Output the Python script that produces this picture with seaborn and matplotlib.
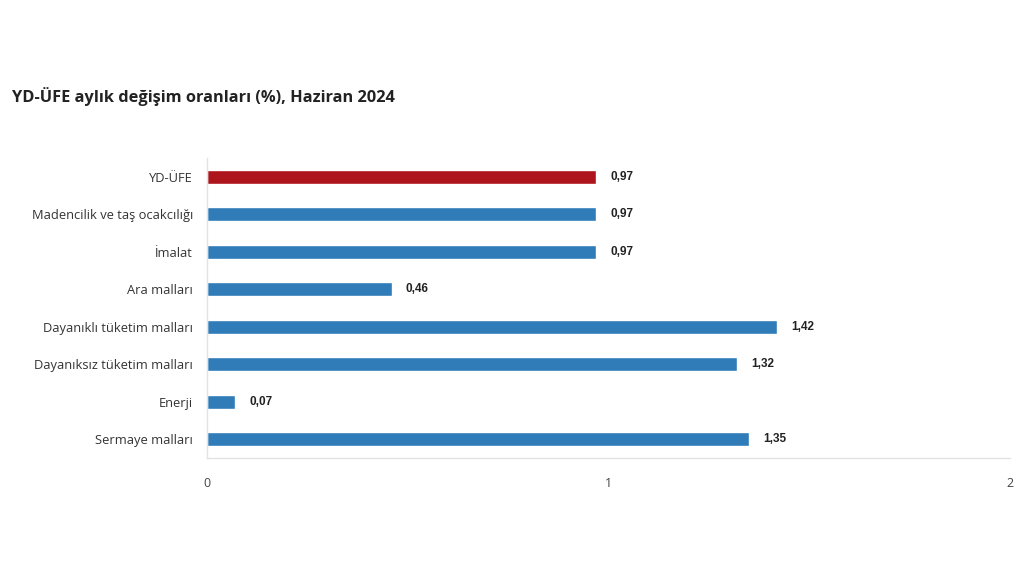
import pandas as pd
import seaborn as sns
import matplotlib.pyplot as plt

categories = [
    "YD-ÜFE",
    "Madencilik ve taş ocakcılığı",
    "İmalat",
    "Ara malları",
    "Dayanıklı tüketim malları",
    "Dayanıksız tüketim malları",
    "Enerji",
    "Sermaye malları",
]
values = [0.97, 0.97, 0.97, 0.46, 1.42, 1.32, 0.07, 1.35]
groups = ["total", "sub", "sub", "sub", "sub", "sub", "sub", "sub"]
x_ticks = [0, 1, 2]

df = pd.DataFrame({"category": categories, "value": values, "group": groups})

sns.set_theme(style="white")
plt.rcParams["font.family"] = ["Open Sans", "DejaVu Sans"]

fig = plt.figure(figsize=(10.24, 5.76), dpi=100)
ax = fig.add_axes([0.2021, 0.2049, 0.7842, 0.5208])

sns.barplot(data=df, x="value", y="category", hue="group",
            palette={"total": "#ad141c", "sub": "#2f7cb9"},
            saturation=1, width=0.37, dodge=False, legend=False, ax=ax)

# value labels
for i, v in enumerate(values):
    ax.text(v + 0.035, i, f"{v:.2f}".replace(".", ","), va="center", ha="left",
            fontsize=8.5, fontweight="bold", color="#222222",
            family=["Liberation Sans", "DejaVu Sans"])

ax.set_xlim(0, 2)
ax.set_ylim(7.5, -0.5)
ax.set_xticks(x_ticks)
ax.set_xticklabels([str(t) for t in x_ticks], fontsize=9, color="#444444")
ax.tick_params(axis="x", length=0, pad=14)
ax.tick_params(axis="y", length=0, pad=10, labelsize=9.3, labelcolor="#333333")
ax.set_xlabel("")
ax.set_ylabel("")

for side in ["top", "right"]:
    ax.spines[side].set_visible(False)
for side in ["left", "bottom"]:
    ax.spines[side].set_color("#e3e3e3")
    ax.spines[side].set_linewidth(1)

fig.text(0.012, 0.832, "YD-ÜFE aylık değişim oranları (%), Haziran 2024",
         fontsize=11.8, fontweight="bold", color="#222222", va="center")

fig.savefig("out.png", dpi=100, facecolor="white")
